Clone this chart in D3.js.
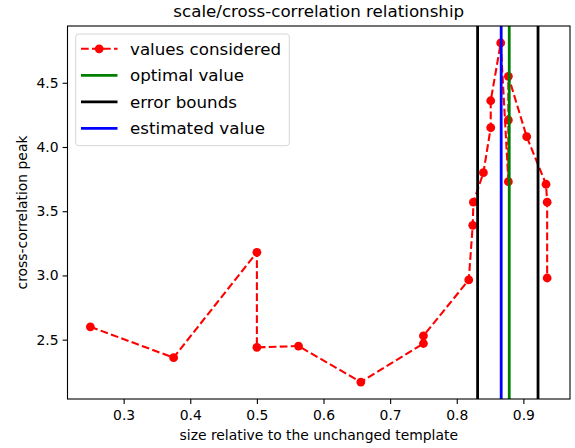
<!DOCTYPE html>
<html>
<head>
<meta charset="utf-8">
<script src="https://cdn.jsdelivr.net/npm/d3@7"></script>
<style>
  body { margin: 0; background: #fff; }
  text { font-family: "DejaVu Sans", sans-serif; fill: #000; }
</style>
</head>
<body>
<div id="plot"></div>
<script>
// values
const sizes = [0.25, 0.375, 0.5, 0.5, 0.5625, 0.656, 0.75, 0.75, 0.818, 0.824, 0.825, 0.840,
    0.851, 0.851, 0.866, 0.8775, 0.8775, 0.8775, 0.905, 0.934, 0.9357, 0.9357];
const peaks = [2.60, 2.36, 3.18, 2.44, 2.45, 2.17, 2.47, 2.53, 2.965, 3.39, 3.57, 3.80,
    4.15, 4.36, 4.81, 3.73, 4.21, 4.55, 4.08, 3.71, 3.57, 2.98];
const optimalValue = 0.8788;
const errorBounds = [0.8313, 0.922];
const estimatedValue = 0.8667;
const xTicks = [0.3, 0.4, 0.5, 0.6, 0.7, 0.8, 0.9];
const yTicks = [2.5, 3.0, 3.5, 4.0, 4.5];
const legendLabels = ["values considered", "optimal value", "error bounds", "estimated value"];

const width = 575, height = 448;
const margin = {top: 26, right: 5, bottom: 49, left: 67.5};

const svg = d3.select("#plot")
    .append("svg")
    .attr("width", width)
    .attr("height", height);

const data = sizes.map((s, i) => ({x: s, y: peaks[i]}));

function padded(ext) {
    const p = (ext[1] - ext[0]) * 0.05;
    return [ext[0] - p, ext[1] + p];
}

const x = d3.scaleLinear()
    .domain(padded(d3.extent(sizes.concat(errorBounds, [optimalValue, estimatedValue]))))
    .range([margin.left, width - margin.right]);
const y = d3.scaleLinear()
    .domain(padded(d3.extent(peaks)))
    .range([height - margin.bottom, margin.top]);

// red dashed line with markers
const line = d3.line().x(d => x(d.x)).y(d => y(d.y));
svg.append("path")
    .datum(data)
    .attr("d", line)
    .attr("fill", "none")
    .attr("stroke", "red")
    .attr("stroke-width", 2.08)
    .attr("stroke-dasharray", "7.7,3.3");

svg.selectAll("circle.pt")
    .data(data)
    .enter()
    .append("circle")
    .attr("class", "pt")
    .attr("cx", d => x(d.x))
    .attr("cy", d => y(d.y))
    .attr("r", 4.4)
    .attr("fill", "red");

// vertical lines (drawn on top, like in the original)
const vlines = [
    {v: optimalValue, c: "green"},
    {v: errorBounds[0], c: "black"},
    {v: errorBounds[1], c: "black"},
    {v: estimatedValue, c: "blue"}
];
svg.selectAll("line.vl")
    .data(vlines)
    .enter()
    .append("line")
    .attr("class", "vl")
    .attr("x1", d => x(d.v))
    .attr("x2", d => x(d.v))
    .attr("y1", margin.top)
    .attr("y2", height - margin.bottom)
    .attr("stroke", d => d.c)
    .attr("stroke-width", 2.8);

// axes
const xAxis = svg.append("g")
    .attr("transform", `translate(0,${height - margin.bottom})`)
    .call(d3.axisBottom(x).tickValues(xTicks).tickFormat(d3.format(".1f")).tickSize(4.9).tickPadding(6));
const yAxis = svg.append("g")
    .attr("transform", `translate(${margin.left},0)`)
    .call(d3.axisLeft(y).tickValues(yTicks).tickFormat(d3.format(".1f")).tickSize(4.9).tickPadding(4));

[xAxis, yAxis].forEach(a => {
    a.select(".domain").remove();
    a.selectAll(".tick line").attr("stroke", "#000").attr("stroke-width", 1.1);
    a.selectAll(".tick text")
        .style("font-family", "DejaVu Sans")
        .style("font-size", "13.9px")
        .attr("fill", "#000");
});

// frame
svg.append("rect")
    .attr("x", margin.left)
    .attr("y", margin.top)
    .attr("width", width - margin.left - margin.right)
    .attr("height", height - margin.top - margin.bottom)
    .attr("fill", "none")
    .attr("stroke", "#000")
    .attr("stroke-width", 1.1);

// title and labels
const cx = (margin.left + width - margin.right) / 2;
svg.append("text")
    .attr("x", cx)
    .attr("y", 16.5)
    .attr("text-anchor", "middle")
    .style("font-size", "16.7px")
    .text("scale/cross-correlation relationship");

svg.append("text")
    .attr("x", cx)
    .attr("y", 440)
    .attr("text-anchor", "middle")
    .style("font-size", "13.9px")
    .text("size relative to the unchanged template");

svg.append("text")
    .attr("transform", `translate(27,${(margin.top + height - margin.bottom) / 2}) rotate(-90)`)
    .attr("text-anchor", "middle")
    .style("font-size", "13.9px")
    .text("cross-correlation peak");

// legend
const legend = svg.append("g");
legend.append("rect")
    .attr("x", 75.7)
    .attr("y", 34)
    .attr("width", 213.6)
    .attr("height", 111.7)
    .attr("rx", 3)
    .attr("fill", "rgba(255,255,255,0.8)")
    .attr("stroke", "#d6d6d6")
    .attr("stroke-width", 1);

const legendColors = ["red", "green", "black", "blue"];
legendLabels.forEach((lab, i) => {
    const ly = 48.8 + i * 26.5;
    const h = legend.append("line")
        .attr("x1", 81).attr("x2", 117.5)
        .attr("y1", ly).attr("y2", ly)
        .attr("stroke", legendColors[i]);
    if (i === 0) {
        h.attr("stroke-width", 2.08).attr("stroke-dasharray", "7.7,3.3");
        legend.append("circle")
            .attr("cx", 99.2).attr("cy", ly).attr("r", 4.4).attr("fill", "red");
    } else {
        h.attr("stroke-width", 2.8);
    }
    legend.append("text")
        .attr("x", 130)
        .attr("y", ly + 6)
        .style("font-size", "16.7px")
        .text(lab);
});
</script>
</body>
</html>
